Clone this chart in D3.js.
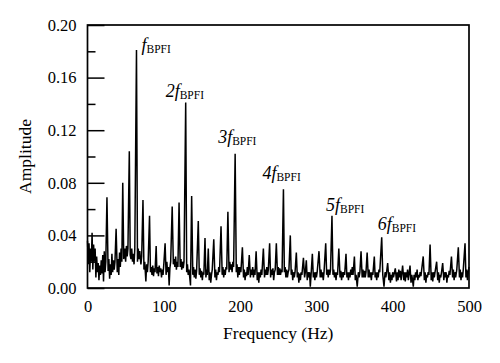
<!DOCTYPE html>
<html>
<head>
<meta charset="utf-8">
<script src="https://cdn.jsdelivr.net/npm/d3@7"></script>
<style>
  body { margin: 0; background: #fff; }
  text { font-family: "Liberation Serif", "Times New Roman", serif; fill: #000; }
</style>
</head>
<body>
<svg></svg>
<script>
// spectrum: [frequency (Hz), amplitude]
let spectrum = [
  [0,0.036],[1,0.018],[2,0.034],[3,0.012],[4,0.03],[5,0.02],[6,0.042],[7,0.014],[8,0.033],[9,0.02],
  [10,0.03],[11,0.008],[12,0.024],[13,0.012],[14,0.019],[15,0.006],[16,0.017],[17,0.01],[18,0.021],[19,0.011],
  [20,0.025],[21,0.005],[22,0.028],[23,0.012],[24,0.02],[25.5,0.069],[27,0.013],[28,0.022],[29,0.007],[30,0.018],
  [31,0.01],[32,0.026],[33,0.012],[34,0.021],[35,0.014],[36,0.02],[37.5,0.045],[39,0.012],[40,0.022],[41,0.01],
  [42,0.027],[43,0.016],[44,0.03],[45,0.02],[46.2,0.08],[47.5,0.022],[49,0.03],[50,0.02],[51,0.032],[52,0.024],
  [53,0.03],[54.8,0.104],[56,0.025],[57,0.022],[58,0.03],[59,0.02],[60,0.026],[61,0.018],[62,0.03],[64.2,0.181],
  [65.5,0.02],[66.5,0.03],[67.5,0.022],[68.5,0.028],[70,0.018],[71,0.024],[72.7,0.067],[74,0.014],[75,0.02],[76.5,0.005],
  [77.5,0.018],[78.5,0.012],[79.5,0.02],[81.3,0.055],[82.5,0.012],[83.5,0.016],[84.5,0.01],[85.5,0.017],[86.5,0.009],[87.5,0.015],
  [88.5,0.012],[90,0.032],[91,0.011],[92,0.016],[93,0.009],[94,0.017],[95,0.012],[96,0.015],[97,0.008],[98,0.014],
  [99,0.01],[100,0.018],[101.7,0.034],[103,0.01],[104,0.02],[105,0.012],[106,0.016],[107,0.002],[108,0.015],[109,0.02],
  [111,0.062],[112.5,0.018],[113.5,0.022],[114.5,0.016],[115.5,0.024],[116.5,0.014],[117.5,0.02],[118.5,0.016],[120,0.065],[121.5,0.016],
  [122.5,0.022],[123.5,0.014],[124.5,0.02],[125.5,0.015],[126.5,0.02],[128.7,0.141],[130,0.012],[131,0.018],[132,0.01],[133,0.014],
  [134,0.008],[135,0.002],[136.5,0.07],[138,0.01],[139,0.016],[140,0.008],[141,0.014],[142,0.007],[143,0.013],[145.2,0.051],
  [146.5,0.01],[147.5,0.015],[148.5,0.008],[149.5,0.013],[150.5,0.006],[151.5,0.012],[152.5,0.01],[154,0.038],[155.2,0.008],[156.2,0.014],
  [157,0.01],[158.3,0.03],[159.5,0.006],[160.5,0.012],[161.5,0.004],[162.5,0.01],[163.5,0.014],[165.5,0.037],[167,0.008],[168,0.014],
  [169,0.006],[170,0.012],[171,0.01],[172,0.016],[173,0.012],[175,0.047],[176.5,0.01],[177.5,0.016],[178.5,0.008],[179.5,0.014],
  [180.5,0.01],[181.5,0.016],[182.5,0.014],[184,0.058],[185.5,0.012],[186.5,0.02],[187.5,0.014],[188.5,0.018],[189.5,0.012],[190.5,0.02],
  [191.5,0.016],[193.5,0.102],[195,0.012],[196,0.018],[197,0.008],[198,0.016],[199,0.01],[200,0.016],[201,0.012],[203,0.031],
  [204.5,0.008],[205.5,0.014],[206.5,0.006],[207.5,0.012],[208.5,0.009],[209.5,0.016],[210.5,0.01],[212,0.025],[213.5,0.008],[214.5,0.014],
  [215.5,0.01],[216.5,0.016],[217.5,0.008],[218.5,0.014],[219.5,0.01],[221,0.028],[222.5,0.006],[223.5,0.012],[224.5,0.004],[225.5,0.012],
  [226.5,0.008],[227.5,0.014],[228.5,0.01],[230.5,0.03],[232,0.008],[233,0.014],[234,0.01],[235,0.016],[236,0.01],[237,0.014],
  [238.7,0.034],[240,0.008],[241,0.014],[242,0.01],[243,0.015],[244,0.006],[245,0.012],[246,0.014],[247.5,0.034],[249,0.01],
  [250,0.016],[251,0.01],[252,0.015],[253,0.01],[254,0.014],[255,0.012],[256.8,0.075],[258,0.012],[259,0.016],[260,0.008],
  [261,0.014],[262,0.008],[263,0.012],[264,0.014],[265.8,0.04],[267,0.01],[268,0.014],[269,0.006],[270,0.012],[271,0.008],
  [272,0.012],[273.7,0.027],[275,0.008],[276,0.012],[277,0.004],[278,0.011],[279,0.006],[280,0.012],[281,0.01],[283,0.023],
  [284.5,0.008],[285.5,0.012],[286.8,0.021],[288,0.006],[289,0.012],[290,0.008],[291,0.012],[292,0.001],[293,0.01],[294.7,0.026],
  [296,0.008],[297,0.012],[298,0.006],[299,0.012],[300,0.008],[301,0.012],[303.4,0.028],[305,0.008],[306,0.014],[307,0.008],
  [308,0.012],[309,0.006],[310,0.012],[312.2,0.034],[313.5,0.01],[314.5,0.014],[315.5,0.008],[316.5,0.014],[317.5,0.01],[318.5,0.014],
  [320.4,0.055],[321.7,0.01],[322.7,0.014],[323.7,0.008],[324.7,0.012],[325.7,0.006],[326.7,0.012],[327.7,0.01],[329.4,0.03],[331,0.008],
  [332,0.013],[333,0.006],[334,0.012],[335,0.008],[336,0.012],[337,0.01],[338.8,0.026],[340,0.008],[341,0.012],[342,0.006],
  [343,0.012],[344,0.008],[345,0.014],[346,0.01],[347,0.016],[348,0.01],[349.8,0.024],[351,0.006],[352,0.01],[353.5,0.001],
  [355,0.012],[356,0.008],[357,0.012],[358.5,0.028],[360,0.008],[361,0.014],[362,0.008],[363,0.013],[364,0.008],[365,0.012],
  [366.5,0.027],[368,0.008],[369,0.014],[370,0.008],[371,0.012],[372,0.006],[373,0.012],[374,0.01],[375.9,0.024],[377,0.008],
  [378,0.012],[379,0.006],[380,0.012],[381,0.008],[382,0.014],[383,0.012],[385.6,0.0385],[387,0.01],[388.6,0.001],[390,0.012],
  [391,0.008],[392,0.012],[393.4,0.019],[395,0.006],[396,0.012],[397,0.004],[398,0.01],[399,0.006],[400,0.012],[401,0.008],
  [402,0.011],[403.4,0.015],[405,0.005],[406,0.012],[407,0.006],[408,0.014],[409,0.008],[410,0.013],[411,0.006],[413,0.017],
  [414.5,0.006],[415.5,0.012],[416.5,0.005],[417.5,0.012],[418.5,0.008],[419.5,0.014],[420.5,0.006],[422.7,0.017],[424,0.004],[425,0.01],
  [426,0.006],[427,0.001],[428,0.01],[429,0.006],[430,0.012],[431,0.008],[432,0.014],[433,0.006],[434,0.01],[435,0.008],
  [436,0.012],[437,0.009],[438,0.014],[440,0.024],[441.5,0.006],[442.5,0.012],[443.5,0.004],[444.5,0.01],[445.5,0.008],[446.5,0.012],
  [447.5,0.01],[449,0.033],[450.5,0.006],[451.5,0.012],[452.5,0.005],[453.5,0.012],[454.5,0.008],[455.5,0.012],[457.6,0.02],[459,0.006],
  [460,0.012],[461,0.004],[462,0.01],[463,0.008],[464,0.012],[465.5,0.019],[467,0.006],[468,0.012],[469,0.008],[470,0.012],
  [471,0.004],[472,0.01],[473,0.008],[474,0.013],[475,0.01],[477,0.024],[478.5,0.008],[479.5,0.014],[480.5,0.006],[481.5,0.012],
  [482.5,0.008],[484,0.014],[486,0.031],[487.5,0.008],[488.5,0.014],[489.5,0.006],[490.5,0.012],[491.5,0.008],[492.5,0.014],[494.8,0.034],
  [496,0.008],[497,0.014],[498,0.006],[499,0.012],[500,0.016]
];

// harmonics of the inner race fault frequency
let harmonicOrder = ['', '2', '3', '4', '5', '6'];
let harmonicFreq = [64.2, 128.7, 193.5, 256.8, 320.4, 385.6];
let harmonicAmp = [0.181, 0.141, 0.102, 0.075, 0.055, 0.0385];

let xTicks = [0, 100, 200, 300, 400, 500];
let yMajorTicks = [0, 0.04, 0.08, 0.12, 0.16, 0.20];
let yMinorTicks = [0.02, 0.06, 0.10, 0.14, 0.18];

// canvas
let W = 500, H = 363;
let margin = { left: 87.5, top: 25, right: 31, bottom: 75 };
let width = W - margin.left - margin.right;
let height = H - margin.top - margin.bottom;

let svg = d3.select('svg')
    .attr('width', W)
    .attr('height', H);

let g = svg.append('g')
    .attr('transform', `translate(${margin.left}, ${margin.top})`);

let xScale = d3.scaleLinear().domain([0, 500]).range([0, width]);
let yScale = d3.scaleLinear().domain([0, 0.2]).range([height, 0]);

// minor y ticks (inward, no labels)
g.append('g')
    .call(d3.axisLeft(yScale).tickValues(yMinorTicks).tickSize(-8).tickFormat(''))
    .call(a => a.select('.domain').remove())
    .call(a => a.selectAll('line').attr('stroke', '#000').attr('stroke-width', 1.5));

// major y ticks with labels
g.append('g')
    .call(d3.axisLeft(yScale).tickValues(yMajorTicks).tickSize(-17).tickPadding(11)
        .tickFormat(d3.format('.2f')))
    .call(a => a.select('.domain').remove())
    .call(a => a.selectAll('line').attr('stroke', '#000').attr('stroke-width', 1.5))
    .call(a => a.selectAll('text').attr('font-size', 16.5).attr('font-family', null));

// x labels, no tick marks
g.append('g')
    .attr('transform', `translate(0, ${height})`)
    .call(d3.axisBottom(xScale).tickValues(xTicks).tickSize(0).tickPadding(12))
    .call(a => a.select('.domain').remove())
    .call(a => a.selectAll('text').attr('font-size', 16.5).attr('font-family', null));

// the spectrum
let line = d3.line()
    .x(d => xScale(d[0]))
    .y(d => yScale(d[1]));

g.append('path')
    .datum(spectrum)
    .attr('d', line)
    .attr('fill', 'none')
    .attr('stroke', '#000')
    .attr('stroke-width', 1.5)
    .attr('stroke-linejoin', 'miter');

// frame
g.append('rect')
    .attr('width', width)
    .attr('height', height)
    .attr('fill', 'none')
    .attr('stroke', '#000')
    .attr('stroke-width', 1.7);

// harmonic labels, nudged relative to their peaks
let nudge = [[5, 1.5], [-20, -5.5], [-17, -10.5], [-21, -10], [-6, -4.5], [-4, -7]];
harmonicOrder.forEach(function(n, i) {
    let t = g.append('text')
        .attr('x', xScale(harmonicFreq[i]) + nudge[i][0])
        .attr('y', yScale(harmonicAmp[i]) + nudge[i][1])
        .attr('font-size', 18);
    t.append('tspan').attr('font-style', 'italic').text(n + 'f');
    t.append('tspan').attr('font-size', 11.5).attr('dy', 1.5).text('BPFI');
});

// axis titles
svg.append('text')
    .attr('x', margin.left + width / 2)
    .attr('y', 339)
    .attr('text-anchor', 'middle')
    .attr('font-size', 17.5)
    .text('Frequency (Hz)');

svg.append('text')
    .attr('transform', `translate(31, ${margin.top + height / 2}) rotate(-90)`)
    .attr('text-anchor', 'middle')
    .attr('font-size', 17.5)
    .text('Amplitude');
</script>
</body>
</html>
